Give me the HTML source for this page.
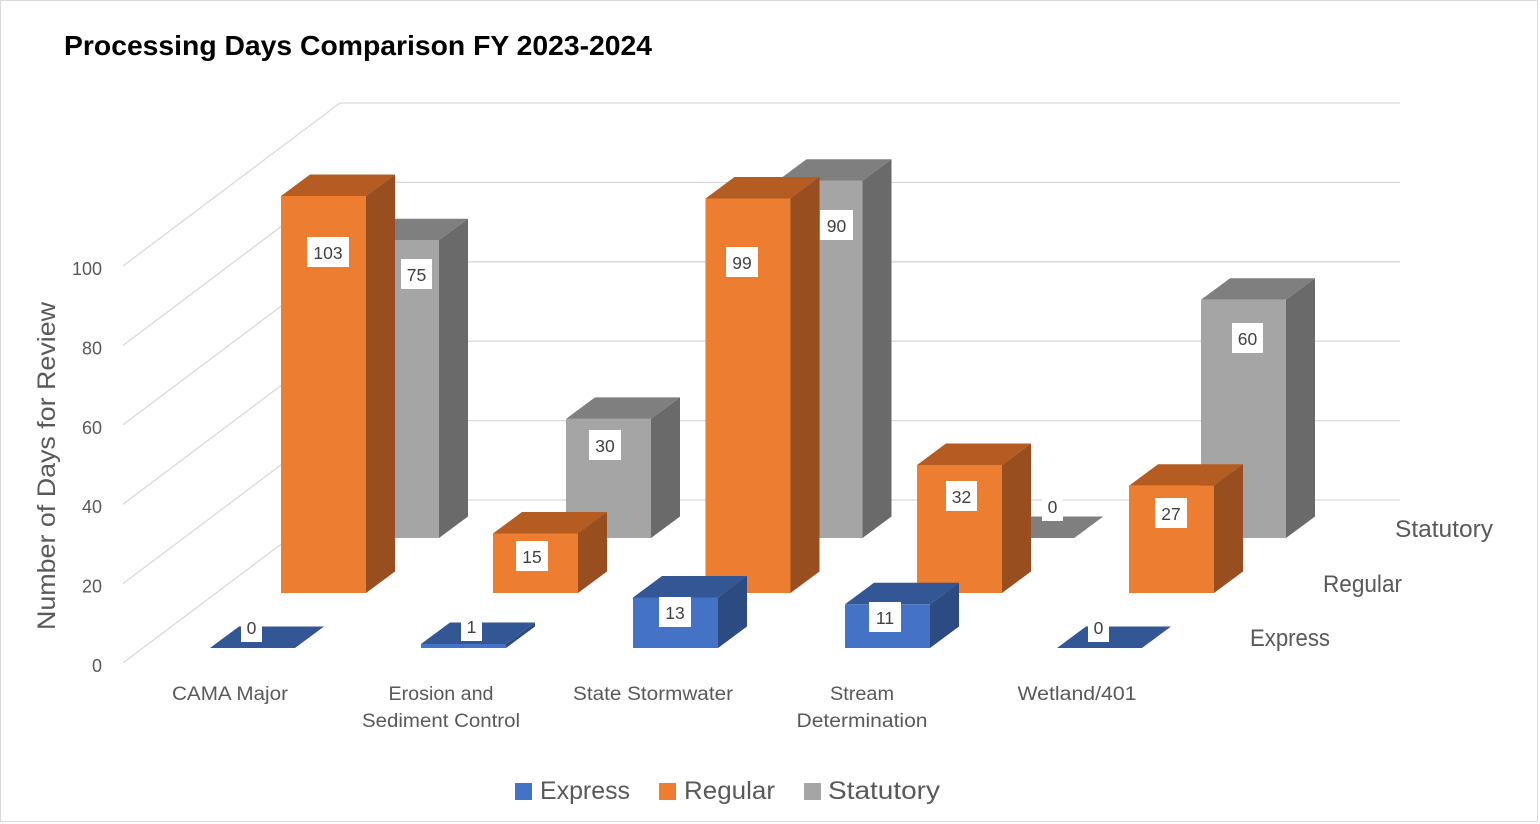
<!DOCTYPE html>
<html>
<head>
<meta charset="utf-8">
<style>
html,body{margin:0;padding:0;background:#fff;}
svg{display:block;}
text{font-family:"Liberation Sans",sans-serif;}
</style>
</head>
<body>
<svg width="1540" height="824" viewBox="0 0 1540 824" xmlns="http://www.w3.org/2000/svg">
<rect x="0" y="0" width="1540" height="824" fill="#ffffff"/>
<rect x="0.5" y="0.5" width="1537" height="821" fill="none" stroke="#D9D9D9" stroke-width="1"/>

<!-- Title -->
<text x="64" y="55" font-size="28" font-weight="bold" fill="#000000" textLength="588" lengthAdjust="spacingAndGlyphs">Processing Days Comparison FY 2023-2024</text>

<!-- Gridlines: side wall diagonals -->
<g stroke="#D9D9D9" stroke-width="1.3" fill="none">
<line x1="123" y1="663" x2="340" y2="500"/>
<line x1="123" y1="583.6" x2="340" y2="420.6"/>
<line x1="123" y1="504.2" x2="340" y2="341.2"/>
<line x1="123" y1="424.8" x2="340" y2="261.8"/>
<line x1="123" y1="345.4" x2="340" y2="182.4"/>
<line x1="123" y1="266" x2="340" y2="103"/>
<!-- back wall -->
<line x1="340" y1="500" x2="1400" y2="500"/>
<line x1="340" y1="420.6" x2="1400" y2="420.6"/>
<line x1="340" y1="341.2" x2="1400" y2="341.2"/>
<line x1="340" y1="261.8" x2="1400" y2="261.8"/>
<line x1="340" y1="182.4" x2="1400" y2="182.4"/>
<line x1="340" y1="103" x2="1400" y2="103"/>
</g>

<!-- Y tick labels -->
<g font-size="18" fill="#595959" text-anchor="end">
<text x="102" y="672">0</text>
<text x="102" y="592.6">20</text>
<text x="102" y="513.2">40</text>
<text x="102" y="433.8">60</text>
<text x="102" y="354.4">80</text>
<text x="102" y="275">100</text>
</g>

<!-- Axis title -->
<text transform="translate(55,466) rotate(-90)" font-size="25" fill="#595959" text-anchor="middle" textLength="328" lengthAdjust="spacingAndGlyphs">Number of Days for Review</text>

<!-- Statutory row (back) -->
<g>
<!-- CAMA 75 -->
<rect x="354" y="240.25" width="85" height="297.75" fill="#A5A5A5"/>
<polygon points="354,240.25 439,240.25 468,218.75 383,218.75" fill="#7F7F7F"/>
<polygon points="439,240.25 468,218.75 468,516.5 439,538" fill="#6A6A6A"/>
<!-- Erosion 30 -->
<rect x="566" y="418.9" width="85" height="119.1" fill="#A5A5A5"/>
<polygon points="566,418.9 651,418.9 680,397.4 595,397.4" fill="#7F7F7F"/>
<polygon points="651,418.9 680,397.4 680,516.5 651,538" fill="#6A6A6A"/>
<!-- State 90 -->
<rect x="777.5" y="180.7" width="85" height="357.3" fill="#A5A5A5"/>
<polygon points="777.5,180.7 862.5,180.7 891.5,159.2 806.5,159.2" fill="#7F7F7F"/>
<polygon points="862.5,180.7 891.5,159.2 891.5,516.5 862.5,538" fill="#6A6A6A"/>
<!-- Stream 0 -->
<polygon points="989.25,538 1074.25,538 1103.25,516.5 1018.25,516.5" fill="#7F7F7F"/>
<!-- Wetland 60 -->
<rect x="1201" y="299.8" width="85" height="238.2" fill="#A5A5A5"/>
<polygon points="1201,299.8 1286,299.8 1315,278.3 1230,278.3" fill="#7F7F7F"/>
<polygon points="1286,299.8 1315,278.3 1315,516.5 1286,538" fill="#6A6A6A"/>
</g>

<!-- Regular row (middle) -->
<g>
<!-- CAMA 103 (clipped at 100) -->
<rect x="281" y="196" width="85" height="397" fill="#ED7D31"/>
<polygon points="281,196 366,196 395,174.5 310,174.5" fill="#B45C22"/>
<polygon points="366,196 395,174.5 395,571.5 366,593" fill="#984E1E"/>
<!-- Erosion 15 -->
<rect x="493" y="533.45" width="85" height="59.55" fill="#ED7D31"/>
<polygon points="493,533.45 578,533.45 607,511.95 522,511.95" fill="#B45C22"/>
<polygon points="578,533.45 607,511.95 607,571.5 578,593" fill="#984E1E"/>
<!-- State 99 -->
<rect x="705.5" y="198.5" width="85" height="394.5" fill="#ED7D31"/>
<polygon points="705.5,198.5 790.5,198.5 819.5,177 734.5,177" fill="#B45C22"/>
<polygon points="790.5,198.5 819.5,177 819.5,571.5 790.5,593" fill="#984E1E"/>
<!-- Stream 32 -->
<rect x="917" y="465" width="85" height="128" fill="#ED7D31"/>
<polygon points="917,465 1002,465 1031,443.5 946,443.5" fill="#B45C22"/>
<polygon points="1002,465 1031,443.5 1031,571.5 1002,593" fill="#984E1E"/>
<!-- Wetland 27 -->
<rect x="1129" y="485.8" width="85" height="107.2" fill="#ED7D31"/>
<polygon points="1129,485.8 1214,485.8 1243,464.3 1158,464.3" fill="#B45C22"/>
<polygon points="1214,485.8 1243,464.3 1243,571.5 1214,593" fill="#984E1E"/>
</g>

<!-- Express row (front) -->
<g>
<!-- CAMA 0 -->
<polygon points="210,648 295,648 324,626.5 239,626.5" fill="#335795"/>
<!-- Erosion 1 -->
<polygon points="421,644 506,644 535,622.5 450,622.5" fill="#335795"/>
<rect x="421" y="644" width="85" height="4" fill="#4472C4"/>
<polygon points="506,644 535,622.5 535,626.5 506,648" fill="#2C4B82"/>
<!-- State 13 -->
<rect x="633" y="597.5" width="85" height="50.5" fill="#4472C4"/>
<polygon points="633,597.5 718,597.5 747,576 662,576" fill="#335795"/>
<polygon points="718,597.5 747,576 747,626.5 718,648" fill="#2C4B82"/>
<!-- Stream 11 -->
<rect x="845" y="604.3" width="85" height="43.7" fill="#4472C4"/>
<polygon points="845,604.3 930,604.3 959,582.8 874,582.8" fill="#335795"/>
<polygon points="930,604.3 959,582.8 959,626.5 930,648" fill="#2C4B82"/>
<!-- Wetland 0 -->
<polygon points="1057,648 1142,648 1171,626.5 1086,626.5" fill="#335795"/>
</g>

<!-- Data labels -->
<g fill="#ffffff">
<rect x="241" y="612" width="21" height="30"/>
<rect x="461" y="611" width="21" height="30"/>
<rect x="659" y="597" width="32" height="30"/>
<rect x="869" y="602" width="32" height="30"/>
<rect x="1088" y="612" width="21" height="30"/>
<rect x="307" y="237" width="42" height="30"/>
<rect x="516" y="541" width="32" height="30"/>
<rect x="726" y="247" width="32" height="30"/>
<rect x="946" y="481" width="31" height="30"/>
<rect x="1155" y="498" width="32" height="30"/>
<rect x="401" y="259" width="31" height="30"/>
<rect x="589" y="430" width="32" height="30"/>
<rect x="820" y="210" width="33" height="30"/>
<rect x="1042" y="491" width="21" height="30"/>
<rect x="1232" y="323" width="31" height="30"/>
</g>
<g font-size="17.5" fill="#404040" text-anchor="middle">
<text x="251.5" y="634">0</text>
<text x="471.5" y="633">1</text>
<text x="675" y="619">13</text>
<text x="885" y="624">11</text>
<text x="1098.5" y="634">0</text>
<text x="328" y="259">103</text>
<text x="532" y="563">15</text>
<text x="742" y="269">99</text>
<text x="961.5" y="503">32</text>
<text x="1171" y="520">27</text>
<text x="416.5" y="281">75</text>
<text x="605" y="452">30</text>
<text x="836.5" y="232">90</text>
<text x="1052.5" y="513">0</text>
<text x="1247.5" y="345">60</text>
</g>

<!-- Category labels -->
<g font-size="19" fill="#595959" text-anchor="middle">
<text x="230" y="700" textLength="116" lengthAdjust="spacingAndGlyphs">CAMA Major</text>
<text x="441" y="700" textLength="105" lengthAdjust="spacingAndGlyphs">Erosion and</text>
<text x="441" y="727" textLength="158" lengthAdjust="spacingAndGlyphs">Sediment Control</text>
<text x="653" y="700" textLength="160" lengthAdjust="spacingAndGlyphs">State Stormwater</text>
<text x="862" y="700" textLength="64" lengthAdjust="spacingAndGlyphs">Stream</text>
<text x="862" y="727" textLength="131" lengthAdjust="spacingAndGlyphs">Determination</text>
<text x="1077" y="700" textLength="119" lengthAdjust="spacingAndGlyphs">Wetland/401</text>
</g>

<!-- Series (depth) labels -->
<g font-size="24" fill="#595959">
<text x="1395" y="537" textLength="98" lengthAdjust="spacingAndGlyphs">Statutory</text>
<text x="1323" y="592" textLength="79" lengthAdjust="spacingAndGlyphs">Regular</text>
<text x="1250" y="646" textLength="80" lengthAdjust="spacingAndGlyphs">Express</text>
</g>

<!-- Legend -->
<rect x="515" y="783" width="17" height="17" fill="#4472C4"/>
<rect x="659" y="783" width="17" height="17" fill="#ED7D31"/>
<rect x="804" y="783" width="17" height="17" fill="#A5A5A5"/>
<g font-size="25" fill="#595959">
<text x="540" y="799" textLength="90" lengthAdjust="spacingAndGlyphs">Express</text>
<text x="684" y="799" textLength="91" lengthAdjust="spacingAndGlyphs">Regular</text>
<text x="828" y="799" textLength="112" lengthAdjust="spacingAndGlyphs">Statutory</text>
</g>
</svg>
</body>
</html>
